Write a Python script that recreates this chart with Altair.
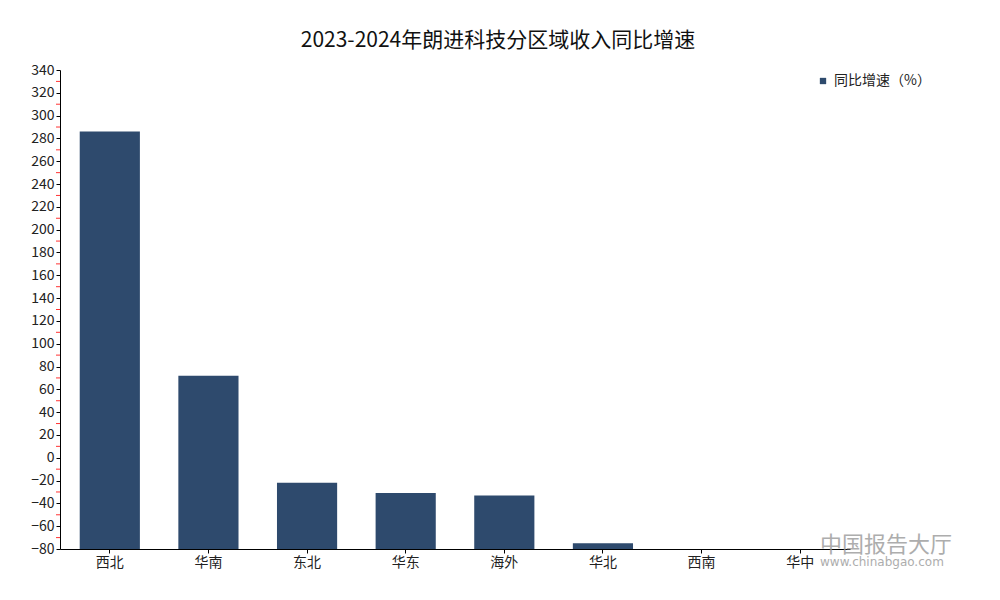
import altair as alt
import pandas as pd

regions = ["西北", "华南", "东北", "华东", "海外", "华北", "西南", "华中"]
growth = [286, 72, -22, -31, -33, -75, -80, -80]
major_ticks = list(range(-80, 341, 20))
minor_ticks = list(range(-70, 340, 20))
series_name = "同比增速（%）"

FONT = "Noto Sans CJK SC"

df = pd.DataFrame({"region": regions, "value": growth, "series": series_name, "base": -80})
minor_df = pd.DataFrame({"v": minor_ticks})

yscale = alt.Scale(domain=[-80, 340], nice=False, zero=False)
xscale = alt.Scale(domain=regions, paddingInner=0.39, paddingOuter=0.2)
yaxis = alt.Axis(values=major_ticks, labelFont=FONT, labelFontSize=14, labelColor="#222",
                 domainColor="#000", tickColor="#000", tickSize=4, grid=False,
                 labelPadding=2, labelOverlap=False, labelFlush=False)

bars = alt.Chart(df).mark_bar().encode(
    x=alt.X("region:N", scale=xscale, sort=regions, title=None,
            axis=alt.Axis(labelAngle=0, labelFont=FONT, labelFontSize=14, labelColor="#222",
                          domainColor="#000", tickColor="#000", tickSize=4, labelPadding=2)),
    y=alt.Y("value:Q", scale=yscale, title=None, axis=yaxis),
    y2="base:Q",
    color=alt.Color("series:N", scale=alt.Scale(range=["#2e4a6d"]),
                    legend=alt.Legend(title=None, orient="none", legendX=756, legendY=4,
                                      symbolType="square", symbolSize=40,
                                      labelFont=FONT, labelFontSize=14, labelColor="#222")),
)

minor = alt.Chart(minor_df).mark_rule(color="#ff3333", strokeWidth=1).encode(
    x=alt.value(-4), x2=alt.value(0), y=alt.Y("v:Q", scale=yscale, title=None, axis=yaxis)
)

wm1 = alt.Chart(pd.DataFrame({"t": ["中国报告大厅"]})).mark_text(
    font=FONT, fontSize=22, color="#999999", opacity=0.8, align="left", baseline="middle"
).encode(x=alt.value(760), y=alt.value(475), text="t:N")
wm2 = alt.Chart(pd.DataFrame({"t": ["www.chinabgao.com"]})).mark_text(
    font="DejaVu Sans", fontSize=12, color="#999999", opacity=0.8, align="left", baseline="middle"
).encode(x=alt.value(760), y=alt.value(492), text="t:N")

chart = alt.layer(bars, minor, wm1, wm2).properties(
    width=790, height=479,
    title=alt.TitleParams("2023-2024年朗进科技分区域收入同比增速", font=FONT, fontSize=21,
                          fontWeight="normal", color="#111", offset=12, dx=43),
    autosize=alt.AutoSizeParams(type="none"),
    padding={"left": 52, "top": 62, "right": 142, "bottom": 40},
).configure_view(stroke=None)

chart.save("out.html", embed_options={"renderer": "svg", "actions": False})
